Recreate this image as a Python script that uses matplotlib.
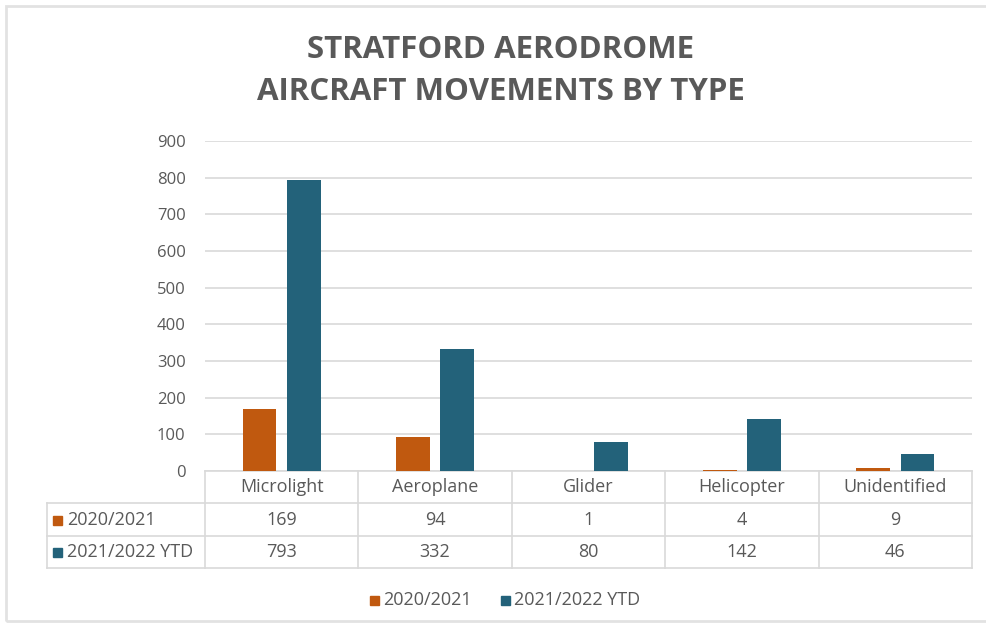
import matplotlib
matplotlib.use("Agg")
import matplotlib.pyplot as plt
from matplotlib.patches import Rectangle
from matplotlib.lines import Line2D
import matplotlib.transforms as mtransforms

categories = ["Microlight", "Aeroplane", "Glider", "Helicopter", "Unidentified"]
series_names = ["2020/2021", "2021/2022 YTD"]
values_2020 = [169, 94, 1, 4, 9]
values_2021 = [793, 332, 80, 142, 46]
yticks = [0, 100, 200, 300, 400, 500, 600, 700, 800, 900]
title_lines = ["STRATFORD AERODROME", "AIRCRAFT MOVEMENTS BY TYPE"]

ORANGE = "#C0590F"
TEAL = "#23627A"
GRAY_TXT = "#595959"
GRID = "#D9D9D9"
FONT = "Open Sans"

plt.rcParams['font.family'] = [FONT, 'DejaVu Sans']

W, H = 987, 628
fig = plt.figure(figsize=(W / 100, H / 100), dpi=100)

def fx(px):
    return px / W

def fy(py):
    return 1 - py / H

# outer frame (right edge lies outside the picture)
fig.patches.append(Rectangle((fx(6), fy(621)), fx(1000 - 6), fy(6) - fy(621),
                             transform=fig.transFigure, fill=False,
                             edgecolor="#E2E2E2", linewidth=2.0))

ax_left, ax_right, ax_top, ax_bot = 205, 972, 141, 471
ax = fig.add_axes([fx(ax_left), fy(ax_bot), fx(ax_right - ax_left), fy(ax_top) - fy(ax_bot)])
ax.set_xlim(-0.5, len(categories) - 0.5)
ax.set_ylim(0, 900)
ax.set_yticks(yticks)
ax.set_yticklabels([str(t) for t in yticks], color=GRAY_TXT, fontsize=12)
ax.tick_params(axis='y', length=0, pad=14)
ax.set_xticks([])
for s in ax.spines.values():
    s.set_visible(False)
ax.yaxis.grid(True, color=GRID, linewidth=1.2)
ax.set_axisbelow(True)

xs = list(range(len(categories)))
off, bw = 0.145, 0.22
ax.bar([x - off for x in xs], values_2020, width=bw, color=ORANGE, zorder=3, clip_on=False)
ax.bar([x + off for x in xs], values_2021, width=bw, color=TEAL, zorder=3, clip_on=False)

# data table
ax_h = ax_bot - ax_top
def ay(py):
    return (ax_bot - py) / ax_h

row_lines = [471, 503, 536, 568]
tab_left_px = 47
blend = mtransforms.blended_transform_factory(ax.transData, ax.transAxes)
line_kw = dict(color=GRID, linewidth=1.2, clip_on=False)

ax.plot([-0.5, len(categories) - 0.5], [ay(471)] * 2, transform=blend, **line_kw)
for py in row_lines[1:]:
    fig.add_artist(Line2D([fx(tab_left_px), fx(ax_right)], [fy(py)] * 2,
                          transform=fig.transFigure, color=GRID, linewidth=1.2))
for i in range(len(categories) + 1):
    ax.plot([i - 0.5] * 2, [ay(471), ay(568)], transform=blend, **line_kw)
fig.add_artist(Line2D([fx(tab_left_px)] * 2, [fy(503), fy(568)],
                      transform=fig.transFigure, color=GRID, linewidth=1.2))

TXT = 13
txt_kw = dict(ha='center', va='center', color=GRAY_TXT, fontsize=TXT)
for i, c in enumerate(categories):
    ax.text(i, ay(487), c, transform=blend, **txt_kw)
    ax.text(i, ay(520), str(values_2020[i]), transform=blend, **txt_kw)
    ax.text(i, ay(552), str(values_2021[i]), transform=blend, **txt_kw)

for name, col, py in [(series_names[0], ORANGE, 520), (series_names[1], TEAL, 552)]:
    fig.patches.append(Rectangle((fx(53), fy(py + 4.5)), fx(9), fy(py - 4.5) - fy(py + 4.5),
                                 transform=fig.transFigure, color=col))
    fig.text(fx(67), fy(py), name, ha='left', va='center', color=GRAY_TXT, fontsize=TXT)

# legend
leg_items = [(series_names[0], ORANGE, 370), (series_names[1], TEAL, 501)]
for name, col, px in leg_items:
    fig.patches.append(Rectangle((fx(px), fy(604.5)), fx(9), fy(595.5) - fy(604.5),
                                 transform=fig.transFigure, color=col))
    fig.text(fx(px + 13), fy(600), name, ha='left', va='center', color=GRAY_TXT, fontsize=TXT)

# title
fig.text(fx(501), fy(50), title_lines[0], ha='center', va='center', color=GRAY_TXT,
         fontsize=22.5, fontweight='bold')
fig.text(fx(501), fy(92), title_lines[1], ha='center', va='center', color=GRAY_TXT,
         fontsize=22.5, fontweight='bold')

fig.savefig("out.png", dpi=100)
